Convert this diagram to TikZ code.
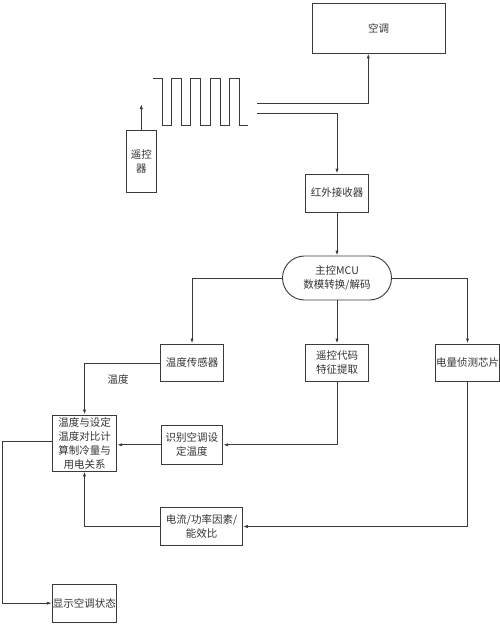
\documentclass[tikz,border=0pt]{standalone}
\usepackage{fontspec}
\setmainfont{Liberation Serif}
\newfontfamily\cjk{Noto Sans CJK SC}
\usetikzlibrary{arrows.meta}
\definecolor{ln}{HTML}{3A3A3A}
\definecolor{tx}{HTML}{333333}
\tikzset{
  boxn/.style={draw=ln, line width=0.9pt, rectangle, inner sep=0pt, align=center,
    text=tx, font=\cjk\fontsize{10.5}{14}\selectfont},
  conn/.style={draw=ln, line width=0.9pt},
  arr/.style={conn, -{Latex[length=5pt,width=3.2pt]}},
  lbl/.style={text=tx, font=\cjk\fontsize{10.5}{14}\selectfont, inner sep=0pt}
}
\begin{document}
\begin{tikzpicture}[x=1pt,y=-1pt]
\useasboundingbox (0,0) rectangle (500,624);
% nodes
\node[boxn, minimum width=133pt, minimum height=50pt] (ac) at (378.5,28) {空调};
\node[boxn, minimum width=30.7pt, minimum height=62.7pt] (remote) at (141.3,161.3) {遥控\\器};
\node[boxn, minimum width=62.6pt, minimum height=38pt] (ir) at (337,193) {红外接收器};
\node[boxn, minimum width=109pt, minimum height=44pt, rounded corners=22pt] (mcu) at (337,278) {主控MCU\\数模转换/解码};
\node[boxn, minimum width=62.6pt, minimum height=37.7pt] (ts) at (192,362.8) {温度传感器};
\node[boxn, minimum width=62.6pt, minimum height=37.7pt] (code) at (337,362.8) {遥控代码\\特征提取};
\node[boxn, minimum width=63.3pt, minimum height=37.7pt] (pwr) at (467.5,362.8) {电量侦测芯片};
\node[boxn, minimum width=64.4pt, minimum height=56pt] (calc) at (84.5,443) {温度与设定\\温度对比计\\算制冷量与\\用电关系};
\node[boxn, minimum width=61.7pt, minimum height=38.3pt] (set) at (191.8,444.8) {识别空调设\\定温度};
\node[boxn, minimum width=81.6pt, minimum height=38.4pt] (cur) at (201.5,526.5) {电流/功率因素/\\能效比};
\node[boxn, minimum width=64pt, minimum height=38.3pt] (disp) at (84.3,603.2) {显示空调状态};
\node[lbl] (tlabel) at (118,379.5) {温度};
% square wave
\draw[conn] (152.7,78.3) -- (162.7,78.3) -- (162.7,125.3) -- (171.7,125.3) -- (171.7,78.3)
  -- (181.7,78.3) -- (181.7,125.3) -- (190.7,125.3) -- (190.7,78.3)
  -- (200.7,78.3) -- (200.7,125.3) -- (210,125.3) -- (210,78.3)
  -- (220,78.3) -- (220,125.3) -- (229.3,125.3) -- (229.3,78.3)
  -- (239,78.3) -- (239,125.3) -- (248.3,125.3);
% connectors
\coordinate (rtip) at (141.3,104);
\draw[arr] (remote.north) -- (rtip);
\coordinate (w1) at (257.3,103.3);
\coordinate (w2) at (257.3,113.7);
\draw[arr] (w1) -| ([xshift=-10.2pt]ac.south);
\draw[arr] (w2) -| (ir.north);
\draw[arr] (ir.south) -- (mcu.north);
\draw[arr] (mcu.west) -| (ts.north);
\draw[arr] (mcu.east) -| (pwr.north);
\draw[arr] (mcu.south) -- (code.north);
\draw[arr] ([yshift=-1pt]ts.west) -| (calc.north);
\draw[arr] (code.south) |- (set.east);
\draw[arr] (set.west) -- (calc.east |- set.west);
\draw[arr] (pwr.south) |- (cur.east);
\draw[arr] (cur.west) -| (calc.south);
\draw[arr] ([yshift=2pt]calc.west) -- ++(-49.6,0) |- (disp.west);
\end{tikzpicture}
\end{document}
